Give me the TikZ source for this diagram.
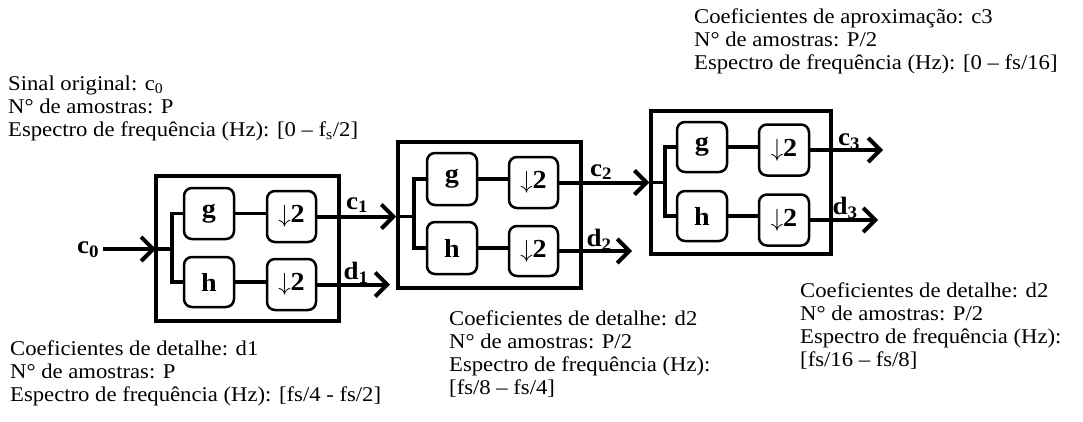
\documentclass[tikz,border=0pt]{standalone}
\usepackage{fontspec}
\setmainfont{Liberation Serif}[FakeStretch=1.08]
\usetikzlibrary{arrows.meta}
\begin{document}
\begin{tikzpicture}[x=1pt,y=-1pt,
  outerbox/.style={draw, line width=3.5pt, inner sep=0pt},
  filt/.style={draw, line width=2.5pt, rounded corners=8pt, inner sep=0pt,
    font=\fontsize{26}{26}\selectfont\bfseries},
  wire/.style={line width=3.5pt},
  arr/.style={line width=4pt, -{Straight Barb[length=12pt,width=24pt]}},
  lbl/.style={inner sep=0pt, font=\fontsize{25}{25}\selectfont\bfseries},
  desc/.style={inner sep=0pt, anchor=north west, align=left,
    font=\fontsize{21}{23}\selectfont}]
\useasboundingbox (0,0) rectangle (1083,421);

% ---------- stage 1 ----------
\node[outerbox, minimum width=183pt, minimum height=145pt] (B1) at (247.5,248.5) {};
\node[filt, minimum width=50pt, minimum height=51pt] (g1) at (209,213.5) {g};
\node[filt, minimum width=49pt, minimum height=51pt] (dg1) at (291.5,216.5) {$\downarrow$2};
\node[filt, minimum width=50pt, minimum height=50pt] (h1) at (209,282) {h};
\node[filt, minimum width=49pt, minimum height=51pt] (dh1) at (291.5,284.5) {$\downarrow$2};
\coordinate (in1) at (156,249);
\coordinate (c0s) at (103,249);
\coordinate (br1) at (172,249);
\node[lbl] (c0) at (88,250) {c\textsubscript{0}};
\draw[arr] (c0s) -- (in1);
\draw[wire] (in1) -- (br1);
\draw[wire] (g1.west) -| (br1) |- (h1.west);
\draw[wire] (g1.east) -- (g1.east -| dg1.west);
\draw[wire] (h1.east) -- (h1.east -| dh1.west);

% ---------- stage 2 ----------
\node[outerbox, minimum width=183pt, minimum height=146pt] (B2) at (489.5,215) {};
\node[filt, minimum width=50pt, minimum height=52pt] (g2) at (452,179) {g};
\node[filt, minimum width=49pt, minimum height=51pt] (dg2) at (533.5,182.5) {$\downarrow$2};
\node[filt, minimum width=50pt, minimum height=52pt] (h2) at (452,248) {h};
\node[filt, minimum width=49pt, minimum height=50pt] (dh2) at (533.5,251) {$\downarrow$2};
\coordinate (in2) at (B2.west |- dg1.east);
\coordinate (br2) at (414,216.5);
\draw[arr] (dg1.east) -- (in2);
\node[lbl] (c1) at (357,205) {c\textsubscript{1}};
\coordinate (d1e) at (390,284.5);
\draw[arr] (dh1.east) -- (d1e);
\node[lbl] (d1) at (356,273) {d\textsubscript{1}};
\draw[wire] (in2) -- (br2);
\draw[wire] (g2.west) -| (br2) |- (h2.west);
\draw[wire] (g2.east) -- (g2.east -| dg2.west);
\draw[wire] (h2.east) -- (h2.east -| dh2.west);

% ---------- stage 3 ----------
\node[outerbox, minimum width=180pt, minimum height=143pt] (B3) at (741,182.5) {};
\node[filt, minimum width=50pt, minimum height=50pt] (g3) at (702,147) {g};
\node[filt, minimum width=50pt, minimum height=51pt] (dg3) at (784,150) {$\downarrow$2};
\node[filt, minimum width=50pt, minimum height=50pt] (h3) at (702,216) {h};
\node[filt, minimum width=50pt, minimum height=51pt] (dh3) at (784,220) {$\downarrow$2};
\coordinate (in3) at (B3.west |- dg2.east);
\coordinate (br3) at (665,182.5);
\draw[arr] (dg2.east) -- (in3);
\node[lbl] (c2) at (601,172) {c\textsubscript{2}};
\coordinate (d2e) at (632,251);
\draw[arr] (dh2.east) -- (d2e);
\node[lbl] (d2) at (599,240) {d\textsubscript{2}};
\draw[wire] (in3) -- (br3);
\draw[wire] (g3.west) -| (br3) |- (h3.west);
\draw[wire] (g3.east) -- (g3.east -| dg3.west);
\draw[wire] (h3.east) -- (h3.east -| dh3.west);
\coordinate (c3e) at (883,150);
\coordinate (d3e) at (878,220);
\draw[arr] (dg3.east) -- (c3e);
\draw[arr] (dh3.east) -- (d3e);
\node[lbl] (c3) at (849,142) {c\textsubscript{3}};
\node[lbl] (d3) at (845,208) {d\textsubscript{3}};

% ---------- descriptions ----------
\node[desc] (tl) at (8,76) {Sinal original: c\textsubscript{0}\\N° de amostras: P\\Espectro de frequência (Hz): [0 – f\textsubscript{s}/2]};
\node[desc] (tr) at (694,9) {Coeficientes de aproximação: c3\\N° de amostras: P/2\\Espectro de frequência (Hz): [0 – fs/16]};
\node[desc] (bl) at (10,341) {Coeficientes de detalhe: d1\\N° de amostras: P\\Espectro de frequência (Hz): [fs/4 - fs/2]};
\node[desc] (bm) at (449,311) {Coeficientes de detalhe: d2\\N° de amostras: P/2\\Espectro de frequência (Hz):\\{}[fs/8 – fs/4]};
\node[desc] (br) at (800,283) {Coeficientes de detalhe: d2\\N° de amostras: P/2\\Espectro de frequência (Hz):\\{}[fs/16 – fs/8]};
\end{tikzpicture}
\end{document}
